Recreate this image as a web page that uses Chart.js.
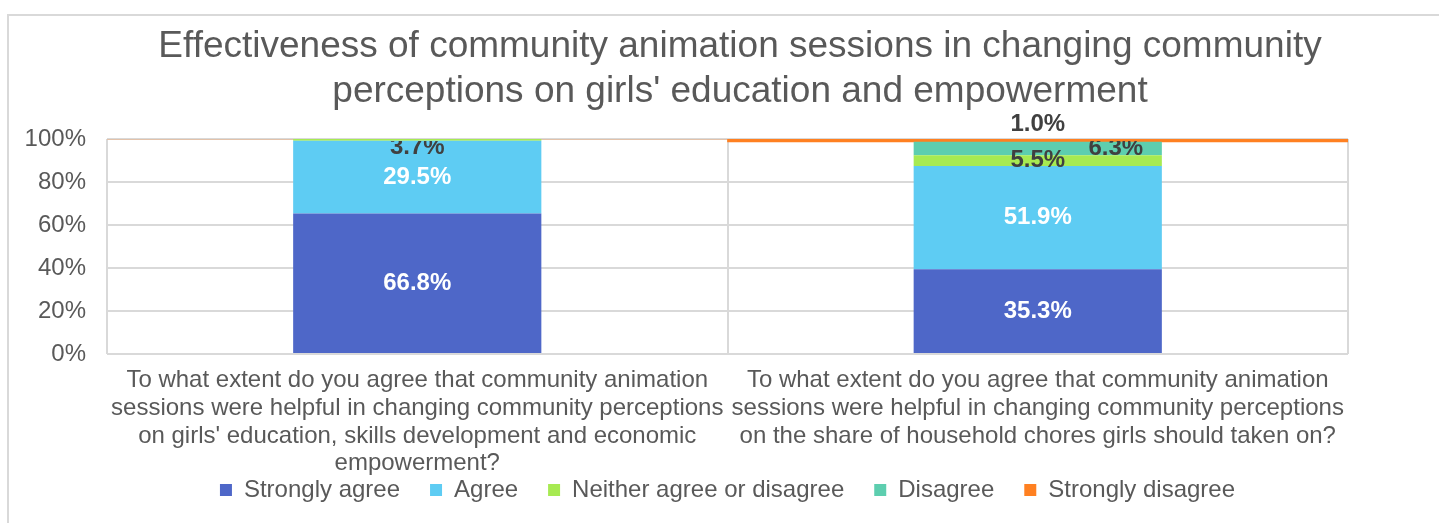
<!DOCTYPE html>
<html>
<head>
<meta charset="utf-8">
<script src="https://cdn.jsdelivr.net/npm/chart.js@4.4.1/dist/chart.umd.min.js"></script>
<style>
  html, body { margin: 0; padding: 0; background: #fff; }
  #marco { position: absolute; left: 7px; top: 14px; width: 1500px; height: 600px;
           border-left: 2px solid #d9d9d9; border-top: 2px solid #d9d9d9; }
  #caja { position: absolute; left: 0; top: 0; width: 1439px; height: 523px; }
</style>
</head>
<body>
<div id="marco"></div>
<div id="caja"><canvas id="chartEfectividad"></canvas></div>
<script>
// Datos (altura de cada segmento, en %)
const categorias = [
    ["To what extent do you agree that community animation",
     "sessions were helpful in changing community perceptions",
     "on girls' education, skills development and economic",
     "empowerment?"],
    ["To what extent do you agree that community animation",
     "sessions were helpful in changing community perceptions",
     "on the share of household chores girls should taken on?"]
];
const series = ["Strongly agree", "Agree", "Neither agree or disagree", "Disagree", "Strongly disagree"];
const muyDeAcuerdo = [65.4, 39.4];
const deAcuerdo = [33.8, 48.0];
const neutral = [0.8, 5.1];
const desacuerdo = [0, 6.2];
const muyDesacuerdo = [0, 1.4];

// Etiquetas de datos tal como aparecen en el grafico
const etqMuyDeAcuerdo = ["66.8%", "35.3%"];
const etqDeAcuerdo = ["29.5%", "51.9%"];
const etqNeutral = ["3.7%", "5.5%"];
const etqDesacuerdo = ["", "6.3%"];
const etqMuyDesacuerdo = ["", "1.0%"];

const ticksY = ["0%", "20%", "40%", "60%", "80%", "100%"];
const titulo = ["Effectiveness of community animation sessions in changing community",
                "perceptions on girls' education and empowerment"];

const colores = ['#4E67C8', '#5ECCF3', '#A7EA52', '#5DCEAF', '#FF8021'];
const gris = '#595959';
const FUENTE = "'Liberation Sans', Arial, sans-serif";

// Titulo centrado como en el original
const pluginTitulo = {
    id: 'tituloManual',
    afterDraw(chart) {
        const ctx = chart.ctx;
        ctx.save();
        ctx.fillStyle = gris;
        ctx.font = `37px ${FUENTE}`;
        ctx.textAlign = 'center';
        ctx.textBaseline = 'middle';
        ctx.fillText(titulo[0], 740, 47);
        ctx.fillText(titulo[1], 740, 92);
        ctx.restore();
    }
};

// Etiquetas sobre los segmentos
const pluginEtiquetas = {
    id: 'etiquetas',
    afterDatasetsDraw(chart, args, opts) {
        const ctx = chart.ctx;
        const area = chart.chartArea;
        const ultimo = chart.data.datasets.length - 1;
        ctx.save();
        ctx.font = `bold 24px ${FUENTE}`;
        ctx.textAlign = 'center';
        ctx.textBaseline = 'middle';
        chart.data.datasets.forEach((ds, d) => {
            const meta = chart.getDatasetMeta(d);
            meta.data.forEach((bar, i) => {
                const txt = ds.etiquetas[i];
                if (!txt) return;
                let x = bar.x + ((opts.desplazar || {})[d + '-' + i] || 0);
                let y = (bar.y + bar.base) / 2;
                ctx.save();
                if (d === ultimo) {
                    y = bar.y - 14;
                } else {
                    // los segmentos muy finos quedan pegados al borde superior
                    y = Math.max(y, area.top + 8);
                    ctx.beginPath();
                    ctx.rect(0, area.top + 2, chart.width, chart.height);
                    ctx.clip();
                }
                ctx.fillStyle = d < 2 ? '#ffffff' : '#404040';
                ctx.fillText(txt, x, y);
                ctx.restore();
            });
        });
        ctx.restore();
    }
};

const valores = [muyDeAcuerdo, deAcuerdo, neutral, desacuerdo, muyDesacuerdo];
const textos = [etqMuyDeAcuerdo, etqDeAcuerdo, etqNeutral, etqDesacuerdo, etqMuyDesacuerdo];

const datasets = series.map((nombre, k) => ({
    label: nombre,
    data: valores[k],
    etiquetas: textos[k],
    backgroundColor: colores[k],
    borderWidth: 0,
    barPercentage: k === 4 ? 1 : 0.4,
    categoryPercentage: 1
}));

new Chart(document.getElementById('chartEfectividad'), {
    type: 'bar',
    data: { labels: categorias, datasets: datasets },
    plugins: [pluginTitulo, pluginEtiquetas],
    options: {
        responsive: true,
        maintainAspectRatio: false,
        animation: false,
        layout: { padding: { top: 139, left: 0, right: 91, bottom: 11 } },
        plugins: {
            title: { display: false },
            tooltip: { enabled: false },
            etiquetas: { desplazar: { '3-1': 78 } },
            legend: {
                position: 'bottom',
                fullSize: false,
                labels: {
                    boxWidth: 12,
                    boxHeight: 12,
                    padding: 30,
                    color: gris,
                    font: { family: FUENTE, size: 24 }
                }
            }
        },
        scales: {
            x: {
                stacked: true,
                grid: { color: '#d9d9d9', lineWidth: 2, drawTicks: false, offset: true },
                border: { display: false },
                ticks: {
                    color: gris,
                    font: { family: FUENTE, size: 24, lineHeight: 1.15 },
                    padding: 13,
                    maxRotation: 0,
                    autoSkip: false
                },
                afterFit(scale) {
                    // la leyenda se monta sobre la ultima linea como en el original
                    scale.height = 94;
                    scale._computeLabelArea = () => null;
                }
            },
            y: {
                stacked: true,
                min: 0,
                max: 100,
                grid: { color: '#d9d9d9', lineWidth: 2, drawTicks: false },
                border: { display: false },
                ticks: {
                    stepSize: 20,
                    padding: 21,
                    color: gris,
                    font: { family: FUENTE, size: 24 },
                    callback: (v) => ticksY[v / 20]
                },
                afterFit(scale) { scale.width = 107; }
            }
        }
    }
});
</script>
</body>
</html>
